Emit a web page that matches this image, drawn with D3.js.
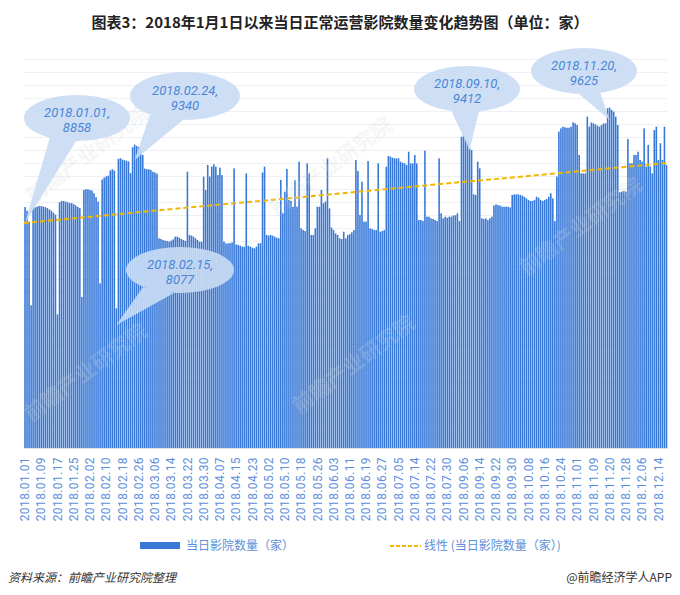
<!DOCTYPE html>
<html><head><meta charset="utf-8">
<script src="https://cdn.jsdelivr.net/npm/d3@7/dist/d3.min.js"></script>
<style>body{margin:0;background:#fff}svg{display:block}</style>
</head><body>
<svg id="chart" width="680" height="595"></svg>
<script>
// ---------- DATA ----------
const dateRanges = [
  ["2018-01-01","2018-04-27"],
  ["2018-04-29","2018-07-07"],
  ["2018-07-09","2018-08-01"],
  ["2018-09-01","2018-11-11"],
  ["2018-11-15","2018-12-18"]
];
const tickLabels = ["2018.01.01","2018.01.09","2018.01.17","2018.01.25","2018.02.02","2018.02.10","2018.02.18","2018.02.26",
  "2018.03.06","2018.03.14","2018.03.22","2018.03.30","2018.04.07","2018.04.15","2018.04.23","2018.05.02","2018.05.10",
  "2018.05.18","2018.05.26","2018.06.03","2018.06.11","2018.06.19","2018.06.27","2018.07.05","2018.07.14","2018.07.22",
  "2018.07.30","2018.09.06","2018.09.14","2018.09.22","2018.09.30","2018.10.08","2018.10.16","2018.10.24","2018.11.01",
  "2018.11.09","2018.11.20","2018.11.28","2018.12.06","2018.12.14"];
const cinemaCount = [
8858,8830,8745,8100,8845,8855,8862,8866,8866,8862,8858,8850,8840,8830,8815,8800,8030,8895,8905,8905,
8900,8895,8890,8888,8880,8870,8860,8850,8165,8990,8995,8995,8990,8985,8965,8935,8900,8270,9070,9085,
9095,9100,9140,9150,9140,8077,9230,9235,9225,9220,9215,9210,9120,9320,9340,9330,9320,9300,9260,9155,
9150,9150,9145,9130,9125,9115,8617,8612,8604,8599,8597,8591,8599,8609,8630,8630,8622,8612,8604,8597,
9131,8643,8638,8630,8617,8604,8591,8590,9093,8990,9183,9093,9170,9188,9170,9105,9162,9105,8591,8578,
8578,8580,8585,9157,8570,8566,8560,8553,8553,9118,8560,8553,8545,8540,8553,8578,8580,9125,9170,8643,
8638,8643,8638,8630,8622,8617,9067,8810,8977,9152,8913,8905,8860,9065,8861,9208,8694,8681,8673,9195,
9118,8643,8643,8694,8861,8861,8990,8887,8900,9234,8848,8700,8681,8655,8643,8617,8612,8668,8617,8643,
8648,8663,8681,9221,9136,8797,9054,8746,8746,9213,8694,8689,8681,8681,9195,8668,8673,8681,9170,9252,
9247,9239,9234,9234,9234,9208,9200,9195,9183,9285,9195,9195,9260,9195,8758,8758,8750,9293,8784,8784,
8771,8766,8758,8750,9234,8810,8771,8784,8776,8784,8784,8792,8795,8810,8750,9400,9412,9395,9362,9311,
9298,8956,8951,9208,9157,8771,8766,8771,8758,8771,8784,8870,8879,8874,8869,8861,8861,8861,8861,8855,
8951,8956,8956,8956,8951,8946,8938,8925,8913,8905,8905,8913,8938,8930,8913,8905,8913,8920,8938,8964,
8925,8750,9093,9440,9465,9478,9473,9470,9470,9478,9511,9504,9491,9260,9118,9118,9118,9555,9478,9511,
9504,9496,9486,9478,9491,9504,9504,9620,9625,9607,9594,9555,9491,8972,8977,8982,8977,9383,9195,9195,
9260,9260,9285,9221,9208,9465,9170,9337,9170,9118,9452,9478,9221,9350,9221,9478,9183];
const gridValues = d3.range(7000, 10001, 100);
const calloutDates = ["2018.01.01","2018.02.24","2018.02.15","2018.09.10","2018.11.20"];
const calloutValues = [8858,9340,8077,9412,9625];
const seriesName = "当日影院数量（家）";
const trendName = "线性 (当日影院数量（家）)";
const watermarkText = "前瞻产业研究院";

// categories from date ranges
const fmt = d3.timeFormat("%Y.%m.%d");
const parse = d3.timeParse("%Y-%m-%d");
const categories = [];
dateRanges.forEach(([a,b]) => d3.timeDay.range(parse(a), d3.timeDay.offset(parse(b),1)).forEach(d => categories.push(fmt(d))));
const data = categories.map((c,i) => ({date:c, value:cinemaCount[i], i}));

// ---------- LAYOUT ----------
const svg = d3.select("#chart");
const L = 24, R = 667.5, T = 59, B = 448;
const x = d3.scaleBand().domain(categories).range([L,R]).paddingInner(0.22).paddingOuter(0.11);
const xi = d3.scaleLinear().domain([-0.5, categories.length-0.5]).range([L,R]);
const y = d3.scaleLinear().domain([7000,10000]).range([B,T]);
const CJK = "'Noto Sans CJK SC',sans-serif";

svg.append("text").attr("x",340).attr("y",28).attr("text-anchor","middle")
  .attr("font-family",CJK).attr("font-weight","bold").attr("font-size",15)
  .attr("fill","#222").text("图表3：2018年1月1日以来当日正常运营影院数量变化趋势图（单位：家）");

// gridlines
svg.append("g").selectAll("line").data(gridValues).join("line")
  .attr("x1",L).attr("x2",R).attr("y1",d=>Math.round(y(d))+0.5).attr("y2",d=>Math.round(y(d))+0.5)
  .attr("stroke","#eef0f4").attr("stroke-width",1);

// bars
svg.append("g").selectAll("rect").data(data).join("rect")
  .attr("x",d=>x(d.date)).attr("width",x.bandwidth())
  .attr("y",d=>y(d.value)).attr("height",d=>B-y(d.value))
  .attr("fill","#3879d8");

// x axis
const ax = svg.append("g").attr("transform",`translate(0,${B})`)
  .call(d3.axisBottom(x).tickValues(tickLabels).tickSize(0));
ax.select(".domain").attr("stroke","#e3e3e3");
ax.selectAll("text").attr("transform","rotate(-90)").attr("x",-9).attr("y",0).attr("dy","0.35em")
  .attr("text-anchor","end").attr("fill","#5b8fd9").attr("font-size",12)
  .attr("font-family","Roboto, sans-serif").attr("letter-spacing","0.4px");

// trend line (least squares)
const n = data.length;
const mx = d3.mean(data,d=>d.i), my = d3.mean(data,d=>d.value);
const slope = d3.sum(data,d=>(d.i-mx)*(d.value-my))/d3.sum(data,d=>(d.i-mx)*(d.i-mx));
const icpt = my - slope*mx;
svg.append("line").attr("x1",xi(-0.5)).attr("x2",xi(n-0.5))
  .attr("y1",y(icpt+slope*-0.5)).attr("y2",y(icpt+slope*(n-0.5)))
  .attr("stroke","#f2b705").attr("stroke-width",2).attr("stroke-dasharray","5,3");

// faint watermarks
const wmLayout = [[92,160],[335,172],[585,232],[90,378],[358,370]];
const wg = svg.append("g").attr("pointer-events","none");
wmLayout.forEach(([cx,cy]) => {
  wg.append("text").attr("transform",`translate(${cx},${cy}) rotate(-37)`)
    .attr("text-anchor","middle").attr("font-family",CJK).attr("font-weight","bold")
    .attr("font-size",21).attr("fill","#d3d7dd").attr("opacity",0.22).text(watermarkText);
});

// callouts
const calloutLayout = [
  {cx:77, cy:118, rx:53, ry:23, tip:[0,  223], base:[[-27,19],[-1,23]]},
  {cx:185,cy:96,  rx:55, ry:24, tip:[54, 160], base:[[-35,19],[-2,24]]},
  {cx:180,cy:270, rx:54, ry:23, tip:[45, 325], base:[[-37,17],[-6,23]]},
  {cx:467,cy:89,  rx:53, ry:23, tip:[219,150], base:[[-16,21],[12,22]]},
  {cx:584,cy:71,  rx:53, ry:23, tip:[288,120], base:[[-5,23],[16,21]]}
];
const cg = svg.append("g");
calloutLayout.forEach((c,k) => {
  const tx = x(categories[c.tip[0]]) + x.bandwidth()/2;
  const ty = c.tip[1];
  const g = cg.append("g").attr("opacity",0.9);
  g.append("ellipse").attr("cx",c.cx).attr("cy",c.cy).attr("rx",c.rx).attr("ry",c.ry).attr("fill","#c9dcf5");
  g.append("path").attr("d",`M${c.cx+c.base[0][0]},${c.cy+c.base[0][1]}L${tx},${ty}L${c.cx+c.base[1][0]},${c.cy+c.base[1][1]}Z`).attr("fill","#c9dcf5");
  const t = cg.append("text").attr("text-anchor","middle").attr("font-family","Roboto, sans-serif")
    .attr("font-style","italic").attr("font-size",13).attr("fill","#4a86d6");
  t.append("tspan").attr("x",c.cx).attr("y",c.cy-1).text(calloutDates[k]+",");
  t.append("tspan").attr("x",c.cx).attr("y",c.cy+14).text(String(calloutValues[k]));
});

// legend
svg.append("rect").attr("x",140).attr("y",542).attr("width",40).attr("height",7).attr("fill","#3879d8");
svg.append("text").attr("x",186).attr("y",550).attr("font-family",CJK)
  .attr("font-size",12).attr("fill","#5b8fd9").text(seriesName);
svg.append("line").attr("x1",390).attr("x2",421).attr("y1",546).attr("y2",546)
  .attr("stroke","#f2b705").attr("stroke-width",2).attr("stroke-dasharray","4,2");
svg.append("text").attr("x",424).attr("y",550).attr("font-family",CJK)
  .attr("font-size",12).attr("fill","#5b8fd9").text(trendName);

// footer
svg.append("text").attr("x",8).attr("y",582).attr("font-family",CJK)
  .attr("font-size",12).attr("font-style","italic").attr("fill","#333").text("资料来源：前瞻产业研究院整理");
svg.append("text").attr("x",672).attr("y",582).attr("text-anchor","end").attr("font-family",CJK)
  .attr("font-size",12).attr("fill","#333").text("@前瞻经济学人APP");
</script>
</body></html>
